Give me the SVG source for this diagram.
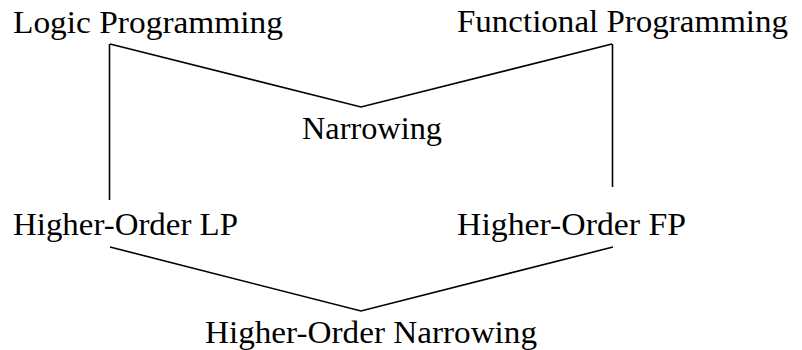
<svg xmlns="http://www.w3.org/2000/svg" width="802" height="350" viewBox="0 0 802 350">
<style>
text{font-family:"Liberation Serif","DejaVu Serif",serif;font-size:32px;fill:#000}
.c line,.c polyline{stroke:#000;stroke-width:1.6;fill:none}
</style>
<rect width="802" height="350" fill="#fff"/>
<g class="c" id="connectors">
<line x1="109.5" y1="44" x2="109.5" y2="200" stroke-width="2"/>
<line x1="612.5" y1="44" x2="612.5" y2="187" stroke-width="2"/>
<polyline points="110,44 361,107 612,44"/>
<polyline points="110,247 361,311 613,247"/>
</g>
<g id="n-logic"><text x="13" y="33" textLength="270" lengthAdjust="spacingAndGlyphs">Logic Programming</text></g>
<g id="n-functional"><text x="457" y="32" textLength="331" lengthAdjust="spacingAndGlyphs">Functional Programming</text></g>
<g id="n-narrowing"><text x="302" y="139" textLength="140" lengthAdjust="spacingAndGlyphs">Narrowing</text></g>
<g id="n-holp"><text x="13" y="235" textLength="225" lengthAdjust="spacingAndGlyphs">Higher-Order LP</text></g>
<g id="n-hofp"><text x="457" y="235" textLength="229" lengthAdjust="spacingAndGlyphs">Higher-Order FP</text></g>
<g id="n-honarrowing"><text x="205" y="343" textLength="332" lengthAdjust="spacingAndGlyphs">Higher-Order Narrowing</text></g>
</svg>
